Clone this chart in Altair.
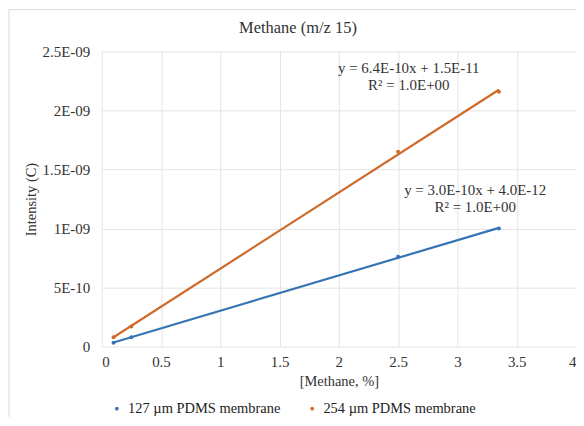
import altair as alt
import pandas as pd

# ---- data ----
concentration = [0.1, 0.25, 2.5, 3.35]
intensity_127 = [3.3e-11, 7.8e-11, 7.6e-10, 1.0e-09]
intensity_254 = [7.8e-11, 1.70e-10, 1.65e-09, 2.16e-09]
series_names = ["127 µm PDMS membrane", "254 µm PDMS membrane"]
series_colors = ["#3674B6", "#CF6A2B"]

x_ticks = [0, 0.5, 1, 1.5, 2, 2.5, 3, 3.5, 4]
y_ticks = [0, 5e-10, 1e-09, 1.5e-09, 2e-09, 2.5e-09]
y_tick_labels = ["0", "5E-10", "1E-09", "1.5E-09", "2E-09", "2.5E-09"]

eq_lines = [
    ["y = 3.0E-10x + 4.0E-12", "R² = 1.0E+00"],
    ["y = 6.4E-10x + 1.5E-11", "R² = 1.0E+00"],
]
eq_x = [3.15, 2.59]
eq_y = [1.33e-09, 2.36e-09]

chart_title = "Methane (m/z 15)"

FONT = "Liberation Serif"

rows = []
for name, vals in zip(series_names, [intensity_127, intensity_254]):
    for c, v in zip(concentration, vals):
        rows.append({"conc": c, "intensity": v, "series": name})
df = pd.DataFrame(rows)

ann = pd.DataFrame({"x": eq_x, "y": eq_y, "text": eq_lines, "series": series_names})

label_expr = " : ".join(
    f"datum.value == {repr(v)} ? '{l}'" for v, l in zip(y_ticks, y_tick_labels)
) + " : ''"

xscale = alt.Scale(domain=[0, 4], nice=False)
yscale = alt.Scale(domain=[0, 2.5e-09], nice=False)
color = alt.Color(
    "series:N",
    scale=alt.Scale(domain=series_names, range=series_colors),
    legend=alt.Legend(
        title=None,
        orient="none",
        direction="horizontal",
        legendX=8,
        legendY=351,
        symbolType="circle",
        symbolSize=14,
        symbolStrokeWidth=0,
        labelFont=FONT,
        labelFontSize=14.5,
        labelColor="#222222",
        columnPadding=24,
        labelOffset=4,
    ),
)

base = alt.Chart(df)

xenc = alt.X(
    "conc:Q",
    scale=xscale,
    title="[Methane, %]",
    axis=alt.Axis(
        values=x_ticks,
        labelExpr="format(datum.value, '.1~f')",
        grid=True,
        domain=False,
        ticks=False,
        labelPadding=8,
        titlePadding=5,
    ),
)
yenc = alt.Y(
    "intensity:Q",
    scale=yscale,
    title="Intensity (C)",
    axis=alt.Axis(
        values=y_ticks,
        labelExpr=label_expr,
        grid=True,
        domain=False,
        ticks=False,
        labelPadding=12,
        titlePadding=3,
    ),
)

lines = base.transform_regression(
    "conc", "intensity", groupby=["series"], method="linear"
).mark_line(strokeWidth=2.2).encode(x=xenc, y=yenc, color=color)

points = base.mark_point(filled=True, size=16, opacity=1).encode(
    x=alt.X("conc:Q", scale=xscale),
    y=alt.Y("intensity:Q", scale=yscale),
    color=alt.Color("series:N", scale=alt.Scale(domain=series_names, range=series_colors), legend=None),
)

texts = alt.Chart(ann).mark_text(
    font=FONT, fontSize=15, color="#333333", align="center", baseline="middle", lineHeight=17
).encode(
    x=alt.X("x:Q", scale=xscale),
    y=alt.Y("y:Q", scale=yscale),
    text="text",
)

single = pd.DataFrame({"label": [chart_title]})
title_mark = alt.Chart(single).mark_text(
    font=FONT, fontSize=16.5, color="#333333", align="center", baseline="middle"
).encode(x=alt.value(197), y=alt.value(-24), text="label:N")

frame_left = alt.Chart(single).mark_rule(color="#d9d9d9", strokeWidth=1).encode(
    x=alt.value(-93), y=alt.value(-42), y2=alt.value(380)
)
frame_top = alt.Chart(single).mark_rule(color="#d9d9d9", strokeWidth=1).encode(
    x=alt.value(-93), x2=alt.value(500), y=alt.value(-42)
)

chart = (
    alt.layer(frame_left, frame_top, lines, points, texts, title_mark)
    .properties(
        width=476,
        height=296,
        autosize=alt.AutoSizeParams(type="none"),
        padding={"left": 94, "top": 43, "right": 0, "bottom": 70},
    )
    .configure_view(stroke=None)
    .configure_axis(
        labelFont=FONT,
        labelFontSize=15,
        labelColor="#333333",
        titleFont=FONT,
        titleFontSize=14.5,
        titleFontWeight="normal",
        titleColor="#333333",
        gridColor="#e4e4e4",
        gridWidth=1,
    )
)

chart.save("out.html", embed_options={"renderer": "svg", "actions": False})
